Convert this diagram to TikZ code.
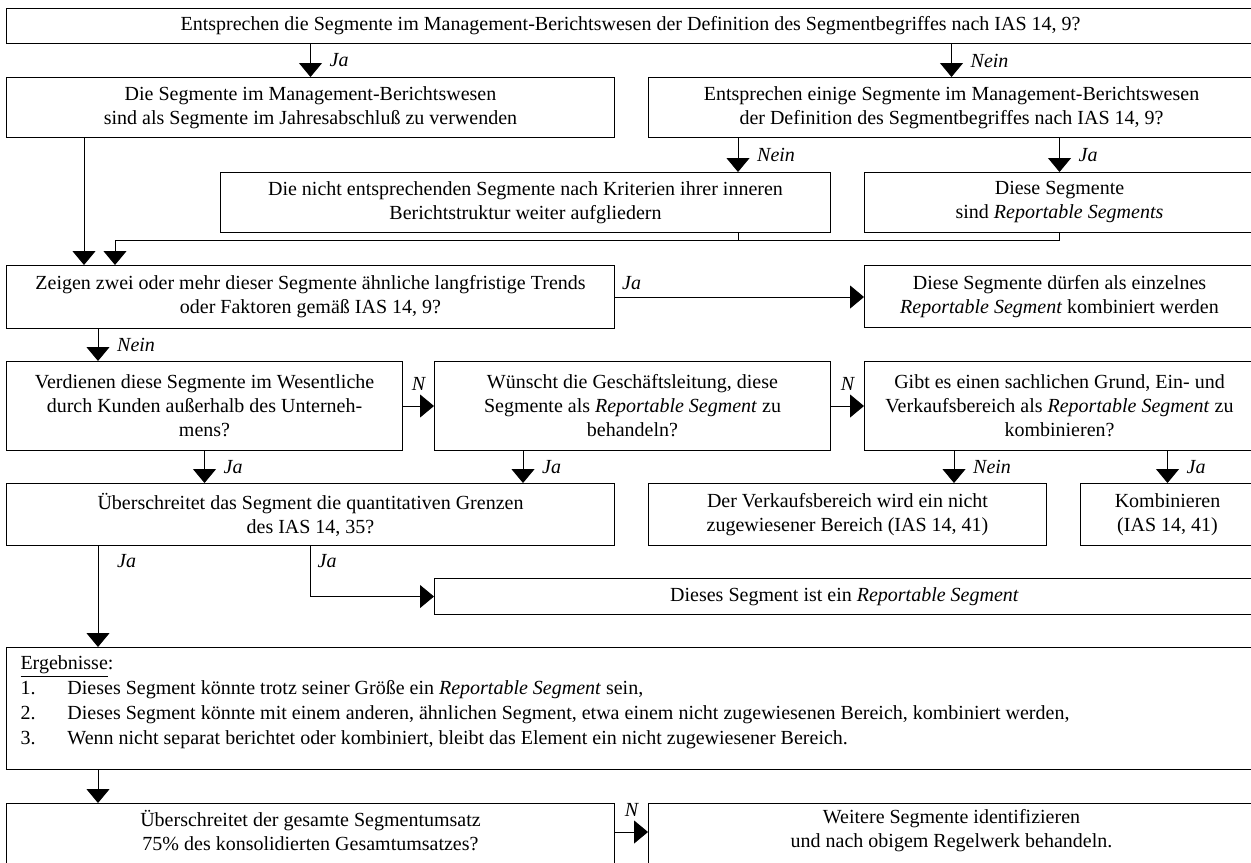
\documentclass[tikz,border=0pt]{standalone}
\usepackage{fontspec}
\setmainfont{Liberation Serif}
\usetikzlibrary{arrows.meta,calc}

\begin{document}
\begin{tikzpicture}[x=0.5pt, y=-0.5pt, line width=0.5pt, >={Triangle[length=7pt,width=11.5pt]},
  main/.style = {draw, rectangle, anchor=north west, align=center, inner sep=0pt, font=\fontsize{10}{12}\selectfont},
  txt/.style = {align=center, inner sep=0pt, font=\fontsize{10}{12}\selectfont},
  lab/.style = {font=\fontsize{10}{12}\selectfont\itshape}]
\useasboundingbox (0,0) rectangle (1251,862);
\clip (0,0) rectangle (1251,862);

\node[main, minimum width=624pt, minimum height=17.5pt](1) at (6,8) {Entsprechen die Segmente im Management-Berichtswesen der Definition des Segmentbegriffes nach IAS 14, 9?};
\node[main, minimum width=304pt, minimum height=30pt](2) at (6,77) {Die Segmente im Management-Berichtswesen\\sind als Segmente im Jahresabschluß zu verwenden};
\node[main, minimum width=303pt, minimum height=30pt](3) at (648,77) {Entsprechen einige Segmente im Management-Berichtswesen\\der Definition des Segmentbegriffes nach IAS 14, 9?};
\node[main, minimum width=305pt, minimum height=30pt](4) at (220,172) {Die nicht entsprechenden Segmente nach Kriterien ihrer inneren\\Berichtstruktur weiter aufgliedern};
\node[main, minimum width=195pt, minimum height=30pt](5) at (864,172) {Diese Segmente\\sind \textit{Reportable Segments}};
\node[main, minimum width=304pt, minimum height=31.5pt](6) at (6,265) {Zeigen zwei oder mehr dieser Segmente ähnliche langfristige Trends\\oder Faktoren gemäß IAS 14, 9?};
\node[main, minimum width=195pt, minimum height=31pt](7) at (864,265) {Diese Segmente dürfen als einzelnes\\\textit{Reportable Segment} kombiniert werden};
\node[main, minimum width=198pt, minimum height=44.5pt](8) at (6,361) {Verdienen diese Segmente im Wesentliche\\durch Kunden außerhalb des Unterneh-\\mens?};
\node[main, minimum width=198pt, minimum height=44.5pt](9) at (434,361) {Wünscht die Geschäftsleitung, diese\\Segmente als \textit{Reportable Segment} zu\\behandeln?};
\node[main, minimum width=195pt, minimum height=44.5pt](10) at (864,361) {Gibt es einen sachlichen Grund, Ein- und\\Verkaufsbereich als \textit{Reportable Segment} zu\\kombinieren?};
\node[main, minimum width=304pt, minimum height=31pt](11) at (6,483) {Überschreitet das Segment die quantitativen Grenzen\\des IAS 14, 35?};
\node[main, minimum width=199pt, minimum height=31pt](12) at (648,483) {Der Verkaufsbereich wird ein nicht\\zugewiesener Bereich (IAS 14, 41)};
\node[main, minimum width=87pt, minimum height=31pt](13) at (1080,483) {Kombinieren\\(IAS 14, 41)};
\node[main, minimum width=410pt, minimum height=18pt](14) at (434,578) {Dieses Segment ist ein \textit{Reportable Segment}};
\node[main, minimum width=624pt, minimum height=61pt](15) at (6,647) {};
\node[anchor=north west, align=left, inner sep=0pt, font=\fontsize{10}{12.5}\selectfont](erg) at ($(15.north west)+(14,8)$) {\underline{Ergebnisse}:\\
  \makebox[23.5pt][l]{1.}Dieses Segment könnte trotz seiner Größe ein \textit{Reportable Segment} sein,\\
  \makebox[23.5pt][l]{2.}Dieses Segment könnte mit einem anderen, ähnlichen Segment, etwa einem nicht zugewiesenen Bereich, kombiniert werden,\\
  \makebox[23.5pt][l]{3.}Wenn nicht separat berichtet oder kombiniert, bleibt das Element ein nicht zugewiesener Bereich.};
\node[main, minimum width=304pt, minimum height=38.5pt](16) at (6,803) {};
\node[txt](16t) at ($(16.north)+(0,28)$) {Überschreitet der gesamte Segmentumsatz\\75\% des konsolidierten Gesamtumsatzes?};
\node[main, minimum width=303pt, minimum height=38.5pt](17) at (648,803) {};
\node[txt](17t) at ($(17.north)+(0,28)$) {Weitere Segmente identifizieren\\und nach obigem Regelwerk behandeln.};

\draw[->] (1.south -| 2.north) -- node[lab, right=6pt]{Ja} (2.north);
\draw[->] (1.south -| 3.north) -- node[lab, right=6pt]{Nein} (3.north);
\draw[->] ($(3.south west)+(90,0)$) coordinate (c1) -- node[lab, right=6pt]{Nein} (c1 |- 4.north);
\draw[->] (3.south -| 5.north) -- node[lab, right=6pt]{Ja} (5.north);
\draw[->] (5.south) |- ($(6.north west)+(109,-25)$) coordinate (c2) -- (c2 |- 6.north);
\draw (c1 |- 4.south) -- (c1 |- c2);
\draw[->] ($(2.south west)+(78,0)$) coordinate (c3) -- (c3 |- 6.north);
\draw[->] (6.east) -- node[lab, pos=0, above right]{Ja} (6.east -| 7.west);
\draw[->] ($(6.south west)+(92,0)$) coordinate (c4) -- node[lab, right=6pt]{Nein} (c4 |- 8.north);
\draw[->] (8.east) -- node[lab, above=4pt]{N} (9.west);
\draw[->] (9.east) -- node[lab, above=4pt]{N} (10.west);
\draw[->] (8.south) -- node[lab, right=6pt]{Ja} (8.south |- 11.north);
\draw[->] ($(9.south west)+(89,0)$) coordinate (c5) -- node[lab, right=6pt]{Ja} (c5 |- 11.north);
\draw[->] ($(10.south west)+(90,0)$) coordinate (c6) -- node[lab, right=6pt]{Nein} (c6 |- 12.north);
\draw[->] (10.south -| 13.north) -- node[lab, right=6pt]{Ja} (13.north);
\draw[->] ($(11.south west)+(92,0)$) coordinate (c7) -- node[lab, right=6pt, pos=.15]{Ja} (c7 |- 15.north);
\draw[->] (11.south) |- node[lab, right, pos=.15]{Ja} (14.west);
\draw[->] ($(15.south west)+(92,0)$) coordinate (c8) -- (c8 |- 16.north);
\draw[->] ($(16.north east)+(0,29)$) coordinate (c9) -- node[lab, above=4pt]{N} (c9 -| 17.west);

\end{tikzpicture}
\end{document}
